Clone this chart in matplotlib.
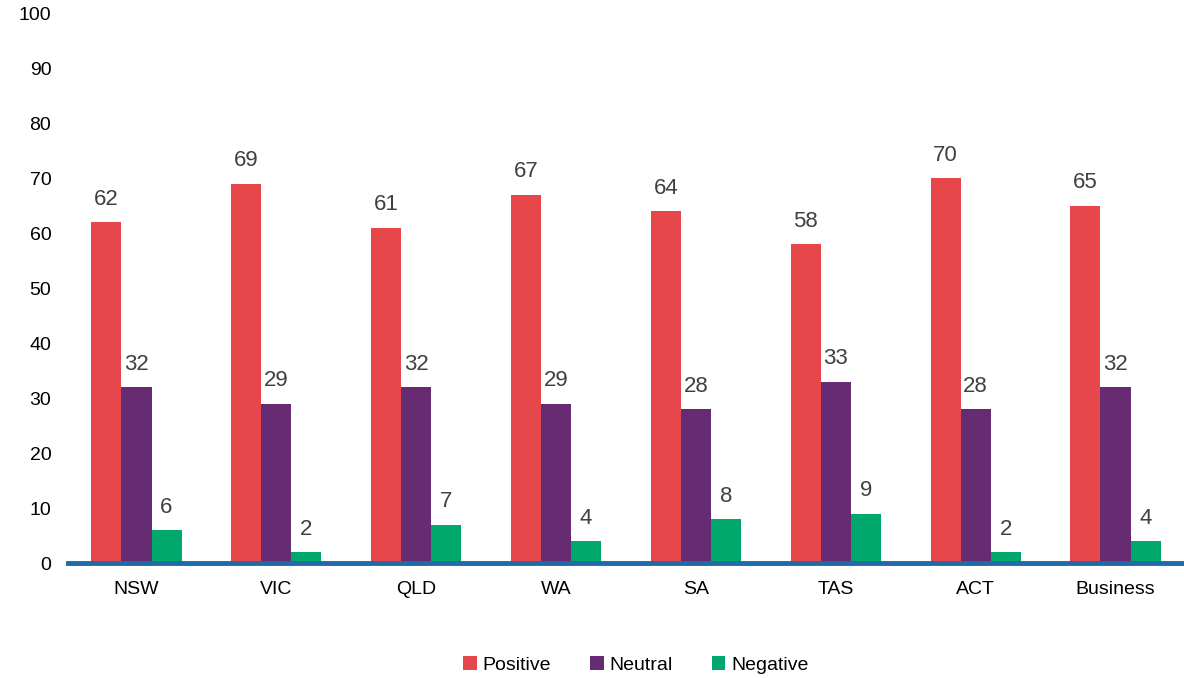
import numpy as np
import matplotlib.pyplot as plt

plt.rcParams['font.family'] = ['Liberation Sans', 'DejaVu Sans']

regions = ['NSW', 'VIC', 'QLD', 'WA', 'SA', 'TAS', 'ACT', 'Business']
positive = [62, 69, 61, 67, 64, 58, 70, 65]
neutral = [32, 29, 32, 29, 28, 33, 28, 32]
negative = [6, 2, 7, 4, 8, 9, 2, 4]

series = [('Positive', positive, '#E5474B'),
          ('Neutral', neutral, '#662B73'),
          ('Negative', negative, '#00A96B')]

fig = plt.figure(figsize=(11.84, 6.78), dpi=100)
ax = fig.add_axes([0.0574, 0.1696, 0.9426, 0.8112])

x = np.arange(len(regions))
w = 0.215
for i, (name, vals, col) in enumerate(series):
    pos = x + (i - 1) * w
    bars = ax.bar(pos, vals, w, color=col, label=name, edgecolor='none')
    for b, v in zip(bars, vals):
        ax.text(b.get_x() + b.get_width() / 2, v + 2.2, str(v),
                ha='center', va='bottom', fontsize=16, color='#404040')

ax.set_xlim(-0.49, 7.49)
ax.set_ylim(0, 100)
ax.set_yticks(np.arange(0, 101, 10))
ax.set_xticks(x)
ax.set_xticklabels(regions)
ax.tick_params(axis='both', length=0, labelsize=14, colors='black')
ax.tick_params(axis='x', pad=13)
ax.tick_params(axis='y', pad=12)

for s in ['top', 'right', 'left']:
    ax.spines[s].set_visible(False)
ax.spines['bottom'].set_color('#1F6BA5')
ax.spines['bottom'].set_linewidth(3.5)

fig.legend(loc='lower center', bbox_to_anchor=(0.537, -0.02), ncol=3,
           frameon=False, fontsize=14, handlelength=0.7, handleheight=0.7,
           handletextpad=0.3, columnspacing=2.0)

fig.savefig('out.png', dpi=100)
